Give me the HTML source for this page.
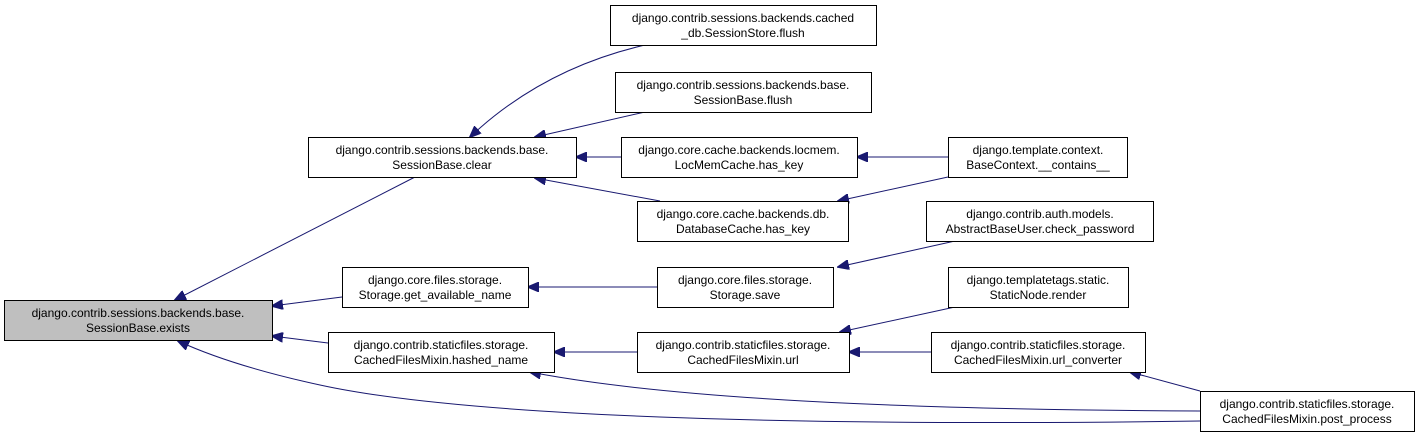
<!DOCTYPE html>
<html><head><meta charset="utf-8"><style>
html,body{margin:0;padding:0;background:#fff;}
svg{display:block;}
text{font-family:"Liberation Sans",Arial,sans-serif;font-size:12px;fill:#000;text-anchor:middle;}
rect{stroke:#000;stroke-width:1;fill:#fff;}
path{stroke:#191970;stroke-width:1;fill:none;}
</style></head><body>
<svg width="1420" height="443" viewBox="0 0 1420 443">
<defs>
<marker id="a" markerWidth="12" markerHeight="10" refX="11" refY="5" orient="auto" markerUnits="userSpaceOnUse">
<path d="M0,0 L12,5 L0,10 Z" style="fill:#191970;stroke:#191970"/>
</marker>
</defs>
<path d="M415,177 L175,300" marker-end="url(#a)"/>
<path d="M342,297 L272,306" marker-end="url(#a)"/>
<path d="M328,343 L272,336" marker-end="url(#a)"/>
<path d="M1200,421 C850,426 480,420 320,385 C260,372 215,358 178,341" marker-end="url(#a)"/>
<path d="M645,45 C580,60 520,90 470,137" marker-end="url(#a)"/>
<path d="M645,112 L535,137" marker-end="url(#a)"/>
<path d="M621,157 L576,157" marker-end="url(#a)"/>
<path d="M660,201 L535,178" marker-end="url(#a)"/>
<path d="M948,157 L857,157" marker-end="url(#a)"/>
<path d="M948,177 L838,201" marker-end="url(#a)"/>
<path d="M657,287 L528,287" marker-end="url(#a)"/>
<path d="M955,241 L838,267" marker-end="url(#a)"/>
<path d="M637,352 L554,352" marker-end="url(#a)"/>
<path d="M1200,411 C1000,410 700,405 530,372" marker-end="url(#a)"/>
<path d="M955,307 L840,332" marker-end="url(#a)"/>
<path d="M931,352 L849,352" marker-end="url(#a)"/>
<path d="M1200,391 L1130,372" marker-end="url(#a)"/>
<rect x="4.5" y="300.5" width="268" height="40" style="fill:#bfbfbf"/>
<text x="138" y="317">django.contrib.sessions.backends.base.</text><text x="138" y="332">SessionBase.exists</text>
<rect x="308.5" y="137.5" width="268" height="40"/>
<text x="442" y="154">django.contrib.sessions.backends.base.</text><text x="442" y="169">SessionBase.clear</text>
<rect x="342.5" y="267.5" width="186" height="40"/>
<text x="435" y="284">django.core.files.storage.</text><text x="435" y="299">Storage.get_available_name</text>
<rect x="328.5" y="332.5" width="226" height="40"/>
<text x="441" y="349">django.contrib.staticfiles.storage.</text><text x="441" y="364">CachedFilesMixin.hashed_name</text>
<rect x="610.5" y="5.5" width="266" height="40"/>
<text x="743" y="22">django.contrib.sessions.backends.cached</text><text x="743" y="37">_db.SessionStore.flush</text>
<rect x="615.5" y="72.5" width="256" height="40"/>
<text x="743" y="89">django.contrib.sessions.backends.base.</text><text x="743" y="104">SessionBase.flush</text>
<rect x="621.5" y="137.5" width="236" height="40"/>
<text x="739" y="154">django.core.cache.backends.locmem.</text><text x="739" y="169">LocMemCache.has_key</text>
<rect x="637.5" y="201.5" width="211" height="40"/>
<text x="743" y="218">django.core.cache.backends.db.</text><text x="743" y="233">DatabaseCache.has_key</text>
<rect x="948.5" y="137.5" width="179" height="40"/>
<text x="1038" y="154">django.template.context.</text><text x="1038" y="169">BaseContext.__contains__</text>
<rect x="926.5" y="201.5" width="227" height="40"/>
<text x="1040" y="218">django.contrib.auth.models.</text><text x="1040" y="233">AbstractBaseUser.check_password</text>
<rect x="657.5" y="267.5" width="176" height="40"/>
<text x="745" y="284">django.core.files.storage.</text><text x="745" y="299">Storage.save</text>
<rect x="637.5" y="332.5" width="212" height="40"/>
<text x="743" y="349">django.contrib.staticfiles.storage.</text><text x="743" y="364">CachedFilesMixin.url</text>
<rect x="948.5" y="267.5" width="180" height="40"/>
<text x="1038" y="284">django.templatetags.static.</text><text x="1038" y="299">StaticNode.render</text>
<rect x="931.5" y="332.5" width="214" height="40"/>
<text x="1038" y="349">django.contrib.staticfiles.storage.</text><text x="1038" y="364">CachedFilesMixin.url_converter</text>
<rect x="1200.5" y="391.5" width="214" height="40"/>
<text x="1307" y="408">django.contrib.staticfiles.storage.</text><text x="1307" y="423">CachedFilesMixin.post_process</text>
</svg>
</body></html>
